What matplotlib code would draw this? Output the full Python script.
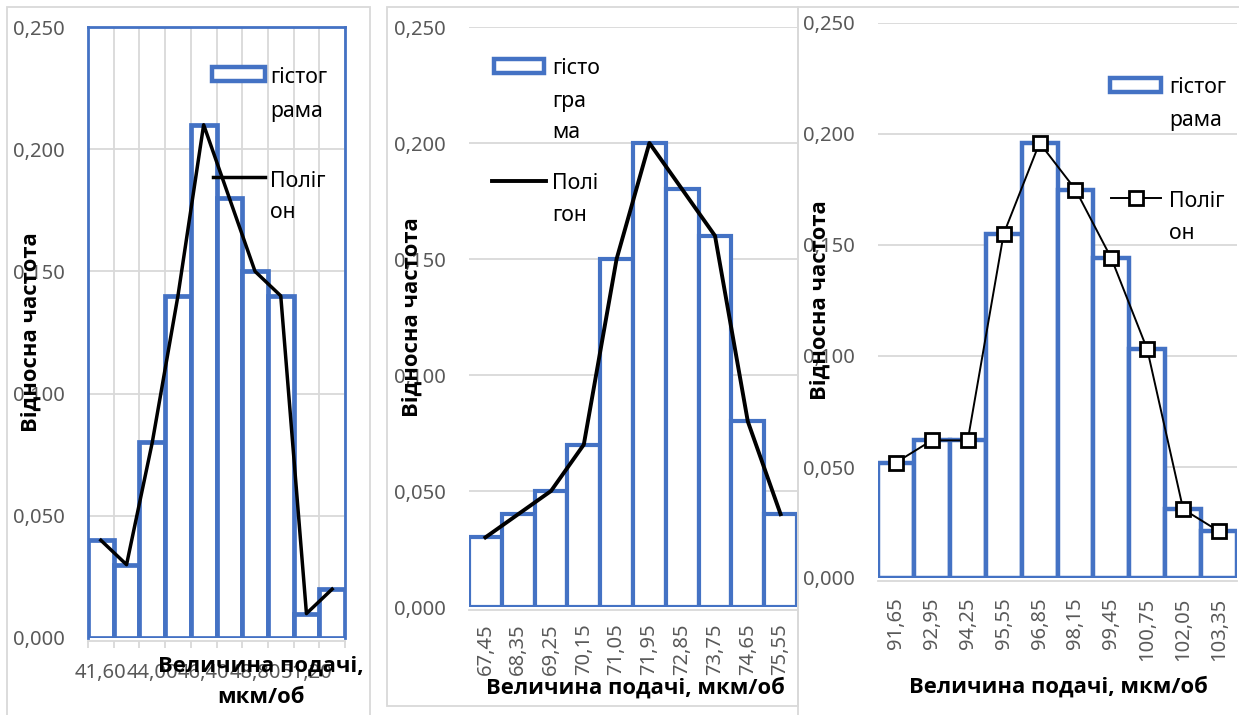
import numpy as np
import matplotlib
matplotlib.use('Agg')
import matplotlib.pyplot as plt
from matplotlib.patches import Rectangle
from matplotlib.lines import Line2D
from matplotlib.ticker import FuncFormatter, MultipleLocator

plt.rcParams['font.family'] = ['Noto Sans', 'DejaVu Sans']

# дані трьох гістограм (відносна частота по інтервалах подачі)
feed1 = ['41,60', '42,80', '44,00', '45,20', '46,40', '47,60', '48,80', '50,00', '51,20', '52,40']
freq1 = [0.04, 0.03, 0.08, 0.14, 0.21, 0.18, 0.15, 0.14, 0.01, 0.02]

feed2 = ['67,45', '68,35', '69,25', '70,15', '71,05', '71,95', '72,85', '73,75', '74,65', '75,55']
freq2 = [0.03, 0.04, 0.05, 0.07, 0.15, 0.20, 0.18, 0.16, 0.08, 0.04]

feed3 = ['91,65', '92,95', '94,25', '95,55', '96,85', '98,15', '99,45', '100,75', '102,05', '103,35']
freq3 = [0.052, 0.062, 0.062, 0.155, 0.196, 0.175, 0.144, 0.103, 0.031, 0.021]

BLUE = '#4472C4'
GRID = '#D9D9D9'
TICK = '#595959'
FS = 14.5
BOLD = dict(fontsize=15.8, fontweight='bold', family=['Open Sans', 'Liberation Sans', 'DejaVu Sans'])

W, H = 1239, 715
fig = plt.figure(figsize=(W / 100, H / 100), dpi=100)


def fx(px):
    return px / W


def fy(py):
    return 1 - py / H


def axes_px(left, top, right, bottom):
    return fig.add_axes([fx(left), fy(bottom), (right - left) / W, (bottom - top) / H])


def frame_px(left, top, right, bottom):
    fig.add_artist(Rectangle((fx(left), fy(bottom)), (right - left) / W, (bottom - top) / H,
                             transform=fig.transFigure, fill=False, ec=GRID, lw=1.3))


def base_axes(ax, freq, bar_lw):
    x = np.arange(len(freq))
    ax.bar(x, freq, width=1.0, facecolor='white', edgecolor=BLUE, lw=bar_lw, zorder=2)
    ax.set_xlim(-0.5, len(freq) - 0.5)
    ax.set_ylim(0, 0.25)
    ax.yaxis.set_major_locator(MultipleLocator(0.05))
    ax.yaxis.set_major_formatter(FuncFormatter(lambda v, p: ('%.3f' % v).replace('.', ',')))
    ax.grid(axis='y', color=GRID, lw=1.3, zorder=0)
    ax.set_axisbelow(True)
    ax.tick_params(axis='y', length=0, pad=17, labelsize=FS, labelcolor=TICK)
    for s in ['top', 'left', 'right']:
        ax.spines[s].set_visible(False)
    ax.spines['bottom'].set_color(GRID)
    ax.spines['bottom'].set_linewidth(1.3)
    ax.spines['bottom'].set_position(('outward', 2))
    return x


def legend_px(box, line, texts, marker=False, line_lw=2.5):
    x0, x1, yc = box
    fig.add_artist(Rectangle((fx(x0), fy(yc + 7)), (x1 - x0) / W, 14 / H, transform=fig.transFigure,
                             fc='white', ec=BLUE, lw=3.2))
    x0, x1, yc = line
    if marker:
        fig.add_artist(Line2D([fx(x0), fx((x0 + x1) / 2), fx(x1)], [fy(yc)] * 3, transform=fig.transFigure,
                              color='black', lw=line_lw, marker='s', markevery=[1], ms=9.5,
                              mfc='white', mec='black', mew=2))
    else:
        fig.add_artist(Line2D([fx(x0), fx(x1)], [fy(yc)] * 2, transform=fig.transFigure,
                              color='black', lw=line_lw))
    tx, rows = texts
    for base, word in rows:
        fig.text(fx(tx), fy(base), word, ha='left', va='baseline', fontsize=15.3)


# рамки діаграм
frame_px(7, 7, 370, 730)
frame_px(387, 7, 798, 706)
frame_px(798, 7, 1250, 730)

# ---- ліва діаграма
ax1 = axes_px(88, 27, 345, 638)
x1 = base_axes(ax1, freq1, 3.4)
ax1.plot(x1, freq1, color='black', lw=2.5, zorder=3)
for s in ['top', 'left', 'right']:
    ax1.spines[s].set_visible(True)
    ax1.spines[s].set_color(BLUE)
    ax1.spines[s].set_linewidth(2)
ax1.set_xticks(np.arange(-0.5, len(freq1), 1), minor=True)
ax1.grid(axis='x', which='minor', color=GRID, lw=1.3, zorder=0)
ax1.set_xticks(x1[::2])
ax1.set_xticklabels(feed1[::2])
ax1.tick_params(axis='x', which='major', length=0, pad=16, labelsize=FS, labelcolor=TICK)
ax1.tick_params(axis='x', which='minor', length=5, color=GRID, width=1.3)
legend_px((212, 265, 74), (213, 265, 177), (270, [(83, 'гістог'), (117, 'рама'), (187, 'Поліг'), (218, 'он')]))
fig.text(fx(31), fy(332), 'Відносна частота', rotation=90, ha='center', va='center', **BOLD)
fig.text(fx(261), fy(672), 'Величина подачі,', ha='center', va='baseline', **BOLD)
fig.text(fx(261), fy(703), 'мкм/об', ha='center', va='baseline', **BOLD)

# ---- середня діаграма
ax2 = axes_px(469, 27, 797, 607)
x2 = base_axes(ax2, freq2, 3)
ax2.plot(x2, freq2, color='black', lw=2.8, zorder=3)
ax2.set_xticks(x2)
ax2.set_xticklabels(feed2, rotation=90)
ax2.tick_params(axis='x', length=0, pad=10, labelsize=FS, labelcolor=TICK)
legend_px((494, 544, 66), (492, 546, 181),
          (552, [(74, 'гісто'), (107, 'гра'), (138, 'ма'), (189, 'Полі'), (221, 'гон')]), line_lw=2.8)
fig.text(fx(412), fy(317), 'Відносна частота', rotation=90, ha='center', va='center', **BOLD)
fig.text(fx(635), fy(694), 'Величина подачі, мкм/об', ha='center', va='baseline', **BOLD)

# ---- права діаграма
ax3 = axes_px(878, 23, 1237, 578)
x3 = base_axes(ax3, freq3, 3.2)
ax3.plot(x3, freq3, color='black', lw=1.4, marker='s', ms=9.5, mfc='white', mec='black', mew=2, zorder=3)
ax3.set_xticks(x3)
ax3.set_xticklabels(feed3, rotation=90)
ax3.tick_params(axis='x', length=0, pad=12, labelsize=FS, labelcolor=TICK)
legend_px((1110, 1161, 85), (1111, 1161, 198),
          (1169, [(93, 'гістог'), (126, 'рама'), (207, 'Поліг'), (239, 'он')]), marker=True, line_lw=1.4)
fig.text(fx(820), fy(300), 'Відносна частота', rotation=90, ha='center', va='center', **BOLD)
fig.text(fx(1058), fy(693), 'Величина подачі, мкм/об', ha='center', va='baseline', **BOLD)

fig.savefig('out.png', dpi=100)
